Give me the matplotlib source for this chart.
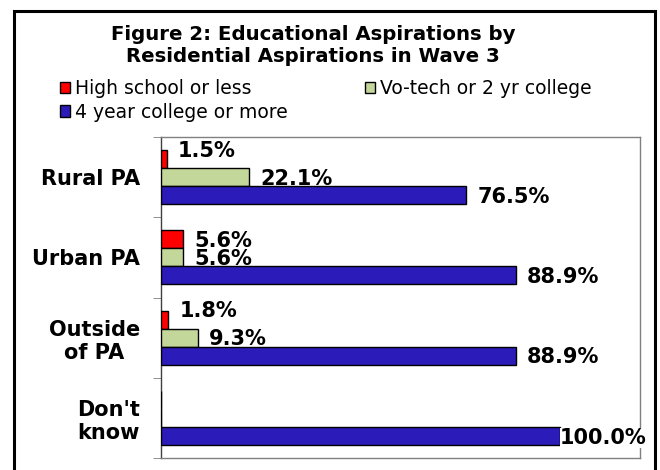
import numpy as np
import matplotlib
matplotlib.use("Agg")
import matplotlib.pyplot as plt
from matplotlib.patches import Rectangle, Patch

categories = ["Rural PA", "Urban PA", "Outside\nof PA", "Don't\nknow"]
series_names = ["High school or less", "Vo-tech or 2 yr college", "4 year college or more"]
high_school = [1.5, 5.6, 1.8, 0.0]
vo_tech = [22.1, 5.6, 9.3, 0.0]
four_year = [76.5, 88.9, 88.9, 100.0]
colors = ["#FF0000", "#C4D79B", "#2B1BB8"]

fig = plt.figure(figsize=(6.6, 4.7), dpi=100)
fig.patch.set_facecolor("white")

# outer chart frame (bottom edge runs off the picture)
fig.patches.append(Rectangle((14 / 660, -0.05), 641 / 660, 1.05 - 11 / 470,
                             transform=fig.transFigure, fill=False,
                             edgecolor="black", linewidth=2.2))

ax = fig.add_axes([161 / 660, 1 - 458 / 470, 479 / 660, 321 / 470])

n = len(categories)
y = np.arange(n)
bar_h = 0.225
xmax = 120
series = [high_school, vo_tech, four_year]
for i, (vals, c, name) in enumerate(zip(series, colors, series_names)):
    pos = y + (i - 1) * bar_h
    # each series: bars then labels, so later bars cover earlier labels
    bars = ax.barh(pos, vals, height=bar_h, color=c, edgecolor="black",
                   linewidth=1, label=name, zorder=3 + 2 * i)
    for k, (b, v) in enumerate(zip(bars, vals)):
        if v <= 0:
            continue
        dy = -5.5
        if i == 0 and series[1][k] > v:
            dy = 1.5  # lift above the longer green bar
        off = 8 if v < 100 else 0
        ax.annotate(f"{v:.1f}%", (v, b.get_y() + b.get_height() / 2),
                    xytext=(off, dy), textcoords="offset points",
                    va="baseline", ha="left", fontsize=15,
                    fontweight="bold", zorder=4 + 2 * i,
                    bbox=dict(facecolor="white", edgecolor="none", pad=0))

ax.set_xlim(0, xmax)
ax.set_ylim(n - 0.5, -0.5)
ax.set_xticks([])
ax.set_yticks(y)
ax.set_yticklabels(categories, fontsize=15, fontweight="bold")
for lbl in ax.get_yticklabels():
    lbl.set_multialignment("center")
ax.set_yticks(np.arange(n + 1) - 0.5, minor=True)
ax.tick_params(axis="y", which="major", length=0, pad=15)
ax.tick_params(axis="y", which="minor", length=6, color="#808080")
for s in ax.spines.values():
    s.set_color("#808080")
    s.set_linewidth(1)
ax.spines["left"].set_color("#404040")

fig.text(313 / 660, 1 - 45 / 470,
         "Figure 2: Educational Aspirations by\nResidential Aspirations in Wave 3",
         ha="center", va="center", fontsize=14.2, fontweight="bold",
         linespacing=1.2)

handles = [Patch(facecolor=c, edgecolor="black", label=nm)
           for c, nm in zip(colors, series_names)]
order = [0, 2, 1]
fig.legend([handles[k] for k in order], [series_names[k] for k in order],
           ncol=2, loc="upper left", bbox_to_anchor=(60 / 660, 1 - 79 / 470),
           frameon=False, fontsize=13.5, handlelength=0.55, handleheight=0.55,
           handletextpad=0.25, columnspacing=4.1, labelspacing=0.25,
           borderaxespad=0, borderpad=0)

fig.savefig("out.png", dpi=100)
